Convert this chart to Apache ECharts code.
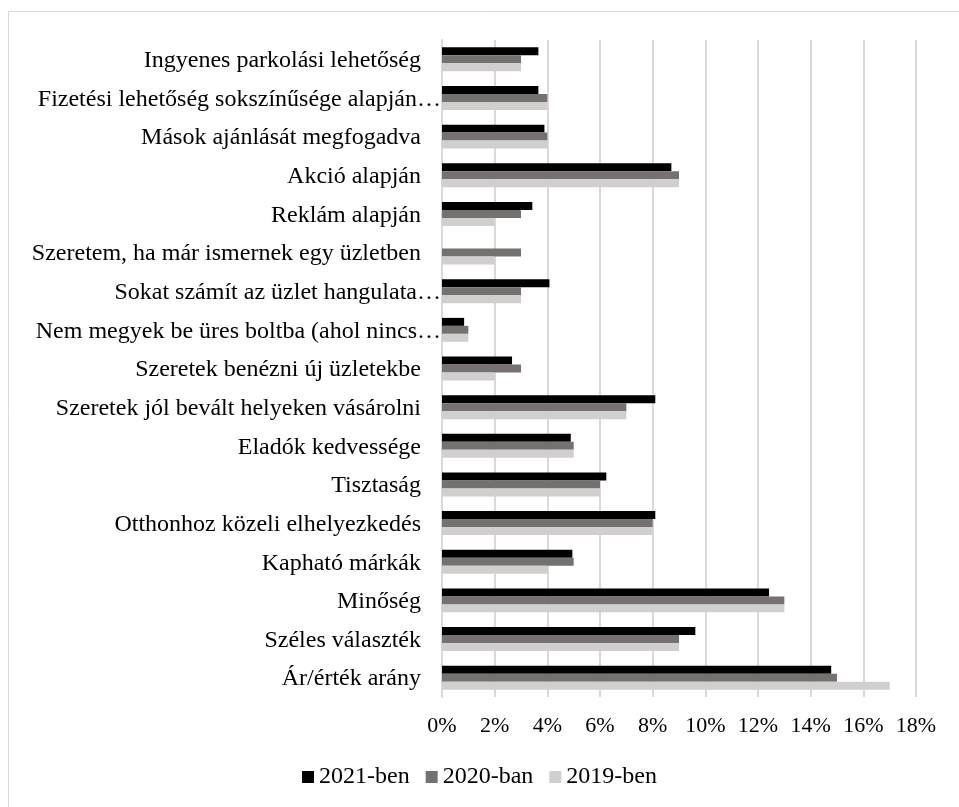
<!DOCTYPE html>
<html>
<head>
<meta charset="utf-8">
<script src="https://cdn.jsdelivr.net/npm/echarts@6/dist/echarts.min.js"></script>
<style>
  html, body { margin: 0; padding: 0; background: #ffffff; }
  #chart { width: 959px; height: 807px; }
</style>
</head>
<body>
<div id="chart"></div>
<script>
// Shopping-choice reasons, share of answers per survey year (in %)
const categories = [
  "Ingyenes parkolási lehetőség",
  "Fizetési lehetőség sokszínűsége alapján…",
  "Mások ajánlását megfogadva",
  "Akció alapján",
  "Reklám alapján",
  "Szeretem, ha már ismernek egy üzletben",
  "Sokat számít az üzlet hangulata…",
  "Nem megyek be üres boltba (ahol nincs…",
  "Szeretek benézni új üzletekbe",
  "Szeretek jól bevált helyeken vásárolni",
  "Eladók kedvessége",
  "Tisztaság",
  "Otthonhoz közeli elhelyezkedés",
  "Kapható márkák",
  "Minőség",
  "Széles választék",
  "Ár/érték arány"
];
const seriesNames = ["2021-ben", "2020-ban", "2019-ben"];
const values2021 = [3.66, 3.66, 3.89, 8.71, 3.43, null, 4.08, 0.84, 2.66, 8.10, 4.89, 6.24, 8.10, 4.95, 12.42, 9.62, 14.78];
const values2020 = [3, 4, 4, 9, 3, 3, 3, 1, 3, 7, 5, 6, 8, 5, 13, 9, 15];
const values2019 = [3, 4, 4, 9, 2, 2, 3, 1, 2, 7, 5, 6, 8, 4, 13, 9, 17];
const xTicks = [0, 2, 4, 6, 8, 10, 12, 14, 16, 18];

const colors = ["#000000", "#767171", "#d0cece"];
const serif = "'Liberation Serif', 'DejaVu Serif', serif";

const chart = echarts.init(document.getElementById("chart"), null, { renderer: "canvas" });

function bar(name, data, color) {
  return {
    name: name,
    type: "bar",
    data: data,
    barGap: "0%",
    barCategoryGap: "38%",
    itemStyle: { color: color },
    silent: true
  };
}

chart.setOption({
  animation: false,
  backgroundColor: "#ffffff",
  graphic: [{
    type: "rect",
    shape: { x: 8.5, y: 11.5, width: 960, height: 820 },
    style: { fill: "none", stroke: "#d9d9d9", lineWidth: 1 },
    silent: true
  }],
  grid: { left: 442, right: 43, top: 40, bottom: 110, containLabel: false },
  legend: {
    data: seriesNames,
    bottom: 13,
    left: "center",
    itemWidth: 12,
    itemHeight: 12,
    itemGap: 16,
    icon: "rect",
    textStyle: { fontFamily: serif, fontSize: 24, color: "#000000" }
  },
  xAxis: {
    type: "value",
    min: xTicks[0],
    max: xTicks[xTicks.length - 1],
    interval: 2,
    axisLine: { show: false },
    axisTick: { show: false },
    splitLine: { show: true, lineStyle: { color: "#d9d9d9", width: 2 } },
    axisLabel: {
      formatter: "{value}%",
      fontFamily: serif,
      fontSize: 22,
      color: "#000000",
      margin: 18
    }
  },
  yAxis: {
    type: "category",
    inverse: true,
    data: categories,
    axisLine: { show: true, lineStyle: { color: "#d9d9d9", width: 2 } },
    axisTick: { show: false },
    axisLabel: {
      margin: 1,
      fontFamily: serif,
      fontSize: 24,
      color: "#000000",
      formatter: function (v) {
        return v.endsWith("…") ? "{cut|" + v + "}" : "{n|" + v + "}";
      },
      rich: {
        n: { fontFamily: serif, fontSize: 24, color: "#000000", padding: [3, 20, 0, 0] },
        cut: { fontFamily: serif, fontSize: 24, color: "#000000", padding: [3, 0, 0, 0] }
      }
    }
  },
  series: [
    bar(seriesNames[0], values2021, colors[0]),
    bar(seriesNames[1], values2020, colors[1]),
    bar(seriesNames[2], values2019, colors[2])
  ]
});
</script>
</body>
</html>
